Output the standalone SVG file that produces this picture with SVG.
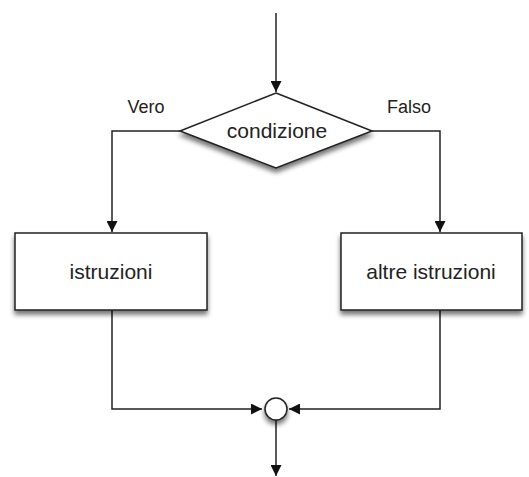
<svg xmlns="http://www.w3.org/2000/svg" width="529" height="477" viewBox="0 0 529 477">
<defs>
<filter id="sh" x="-20%" y="-20%" width="140%" height="160%">
<feGaussianBlur in="SourceAlpha" stdDeviation="2.5"/>
<feOffset dx="0" dy="4" result="b"/>
<feComponentTransfer><feFuncA type="linear" slope="0.55"/></feComponentTransfer>
<feMerge><feMergeNode/><feMergeNode in="SourceGraphic"/></feMerge>
</filter>
<marker id="ah" viewBox="0 0 10 10" refX="10" refY="5" markerWidth="11" markerHeight="11" markerUnits="userSpaceOnUse" orient="auto">
<path d="M0,0 L10,5 L0,10 z" fill="#111"/>
</marker>
<style>
.shape{fill:#fff;stroke:#222;stroke-width:1.5}
.edge{fill:none;stroke:#222;stroke-width:1.5}
.t{font-family:"Liberation Sans",Arial,sans-serif;fill:#222;text-anchor:middle}
.big{font-size:21px}
.lbl{font-size:18px}
</style>
</defs>
<rect width="529" height="477" fill="#fff"/>
<g id="connectors">
<line class="edge" x1="276" y1="13" x2="276" y2="92" marker-end="url(#ah)"/>
<polyline class="edge" points="180,131 112,131 112,232" marker-end="url(#ah)"/>
<polyline class="edge" points="372,131 440,131 440,232" marker-end="url(#ah)"/>
<polyline class="edge" points="112,310 112,409 262,409" marker-end="url(#ah)"/>
<polyline class="edge" points="440,310 440,409 289,409" marker-end="url(#ah)"/>
<line class="edge" x1="276" y1="420" x2="276" y2="476" marker-end="url(#ah)"/>
</g>
<g id="condizione">
<polygon class="shape" filter="url(#sh)" points="276,93 372,131 276,168 180,131"/>
<text class="t big" x="277" y="138">condizione</text>
</g>
<g id="istruzioni">
<rect class="shape" filter="url(#sh)" x="15" y="233" width="192" height="77"/>
<text class="t big" x="111" y="279">istruzioni</text>
</g>
<g id="altre">
<rect class="shape" filter="url(#sh)" x="341" y="233" width="181" height="77"/>
<text class="t big" x="431" y="279">altre istruzioni</text>
</g>
<g id="merge">
<circle class="shape" filter="url(#sh)" cx="276" cy="409" r="11"/>
</g>
<g id="labels">
<text class="t lbl" x="146" y="113">Vero</text>
<text class="t lbl" x="409" y="113">Falso</text>
</g>
</svg>
